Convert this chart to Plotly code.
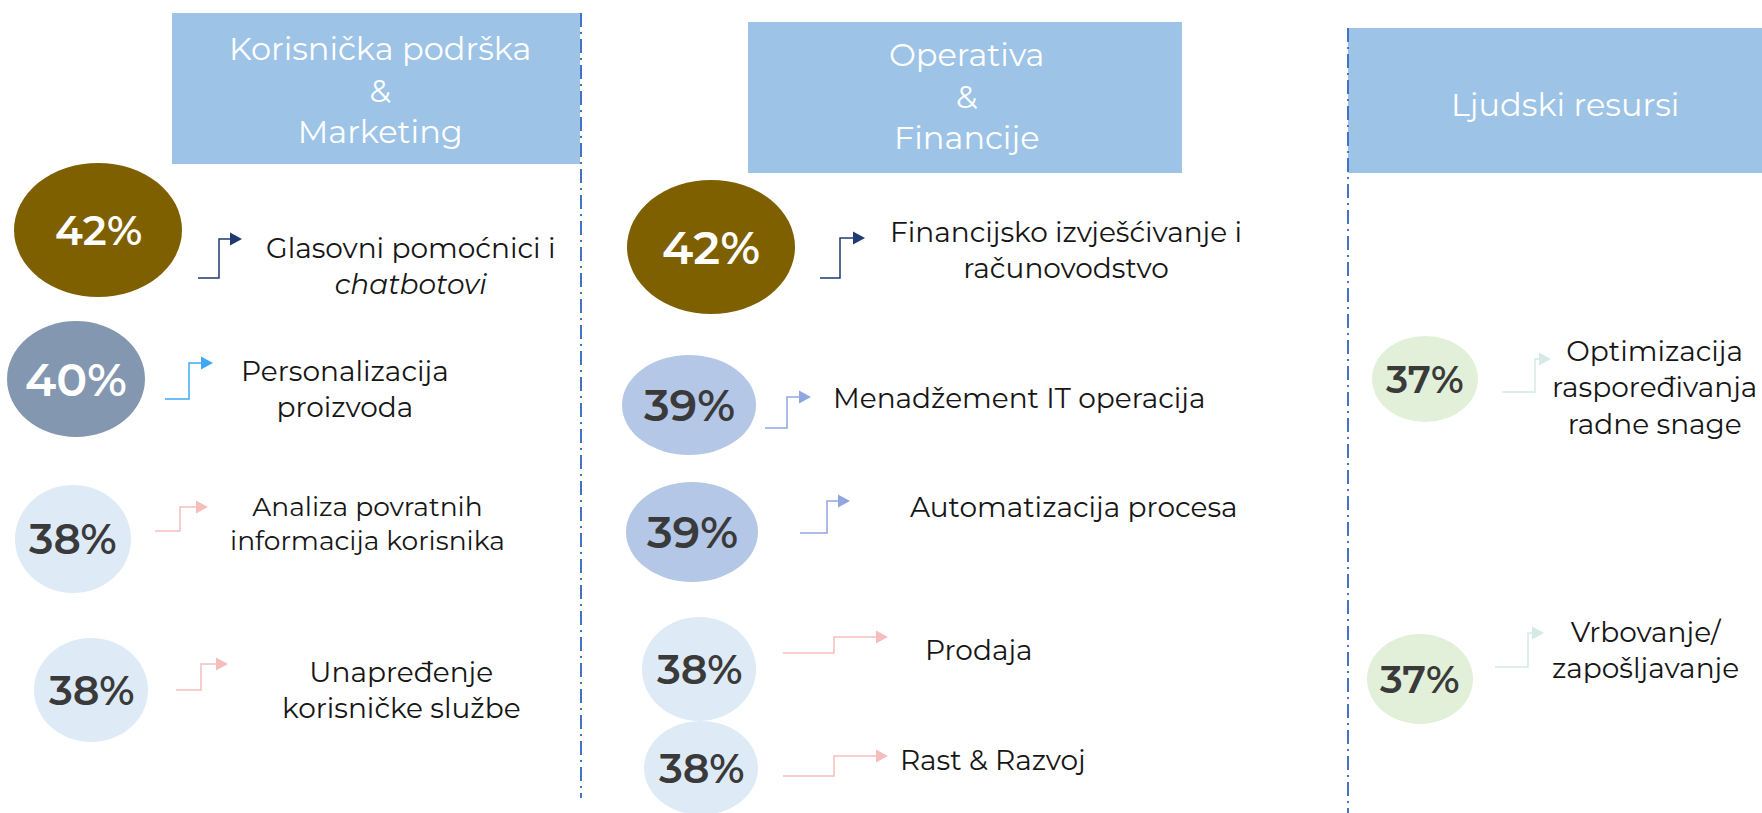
import plotly.graph_objects as go

# ---------------- data ----------------
departments = ["Korisnička podrška<br>&<br>Marketing", "Operativa<br>&<br>Financije", "Ljudski resursi"]
use_cases = [
    "Glasovni pomoćnici i<br><i>chatbotovi</i>",
    "Personalizacija<br>proizvoda",
    "Analiza povratnih<br>informacija korisnika",
    "Unapređenje<br>korisničke službe",
    "Financijsko izvješćivanje i<br>računovodstvo",
    "Menadžement IT operacija",
    "Automatizacija procesa",
    "Prodaja",
    "Rast & Razvoj",
    "Optimizacija<br>raspoređivanja<br>radne snage",
    "Vrbovanje/<br>zapošljavanje",
]
values = [42, 40, 38, 38, 42, 39, 39, 38, 38, 37, 37]
department_of = [0, 0, 0, 0, 1, 1, 1, 1, 1, 2, 2]

# ---------------- layout (pixels, y downwards) ----------------
W, H = 1762, 813
FONT = "Montserrat, Inter, 'Noto Sans', sans-serif"

header_boxes = [(172, 13, 580, 164), (748, 22, 1182, 173), (1348, 28, 1770, 173)]
header_text_xy = [(380, 90), (966, 96), (1565, 104)]
dividers = [(581, 13, 798), (1348, 28, 813)]

# circle: cx, cy, rx, ry, pct font size
circles = [
    (98, 230, 84, 67, 41), (76, 379, 69, 58, 46), (73, 539, 58, 54, 42), (91, 690, 57, 52, 41),
    (711, 247, 84, 67, 46), (689, 405, 67, 50, 44), (692, 532, 66, 50, 44),
    (699, 669, 57, 52, 41), (701, 768, 57, 47, 41),
    (1425, 379, 53, 43, 38), (1420, 679, 53, 45, 39),
]
# arrow: start x, start y, corner x, top y, tip x
arrows = [
    (198, 278, 219, 239, 242), (165, 399, 189, 363, 213), (155, 531, 180, 507, 208), (176, 690, 201, 664, 228),
    (820, 278, 840, 238, 865), (765, 428, 787, 397, 811), (800, 533, 827, 501, 850),
    (783, 653, 834, 637, 888), (783, 776, 834, 756, 888),
    (1502, 392, 1535, 359, 1551), (1495, 667, 1528, 633, 1544),
]
# label: center x, center y, font size
label_pos = [
    (410, 266, 28), (345, 389, 28), (367, 523, 26.5), (401, 690, 28),
    (1066, 250, 28), (1019, 398, 28), (1074, 507, 28), (979, 650, 28), (993, 760, 28),
    (1654, 387, 28), (1645, 650, 28),
]

circle_fill = {42: "#7F6000", 40: "#8497B0", 39: "#B4C7E7", 38: "#DEEBF7", 37: "#E2F0D9"}
pct_color = {42: "#FFFFFF", 40: "#FFFFFF", 39: "#3A3A3A", 38: "#3A3A3A", 37: "#3A3A3A"}
arrow_color = {42: "#203A72", 40: "#3FA9F5", 39: "#8FA6E0", 38: "#F6BDBD", 37: "#D5EAE6"}

fig = go.Figure()
shapes = []
annotations = []

# headers
for (x0, y0, x1, y1), (tx, ty), name in zip(header_boxes, header_text_xy, departments):
    shapes.append(dict(type="rect", x0=x0, y0=y0, x1=x1, y1=y1, fillcolor="#9DC3E6",
                       line=dict(width=0), layer="below"))
    annotations.append(dict(x=tx, y=ty, text=name, showarrow=False, xanchor="center", yanchor="middle",
                            font=dict(family=FONT, size=32, color="white"), align="center"))

# dividers
for x, y0, y1 in dividers:
    fig.add_trace(go.Scatter(x=[x, x], y=[y0, y1], mode="lines",
                             line=dict(color="#4472C4", width=2, dash="14px,5px,2px,5px"),
                             hoverinfo="skip", showlegend=False))

# items
for i, (lab, v) in enumerate(zip(use_cases, values)):
    cx, cy, rx, ry, fs = circles[i]
    shapes.append(dict(type="circle", x0=cx - rx, x1=cx + rx, y0=cy - ry, y1=cy + ry,
                       fillcolor=circle_fill[v], line=dict(width=0), layer="below"))
    annotations.append(dict(x=cx, y=cy, text=f"{v}%", showarrow=False,
                            xanchor="center", yanchor="middle",
                            font=dict(family=FONT, size=fs, color=pct_color[v], weight=600)))
    sx, sy, kx, ty, tip = arrows[i]
    col = arrow_color[v]
    fig.add_trace(go.Scatter(x=[sx, kx, kx, tip - 10], y=[sy, sy, ty, ty], mode="lines",
                             line=dict(color=col, width=1.5), hoverinfo="skip", showlegend=False))
    shapes.append(dict(type="path", path=f"M {tip-12},{ty-6.5} L {tip},{ty} L {tip-12},{ty+6.5} Z",
                       fillcolor=col, line=dict(width=0)))
    lx, ly, lfs = label_pos[i]
    annotations.append(dict(x=lx, y=ly, text=lab, showarrow=False, xanchor="center", yanchor="middle",
                            align="center", font=dict(family=FONT, size=lfs, color="#161616")))

fig.update_layout(
    width=W, height=H, margin=dict(l=0, r=0, t=0, b=0),
    paper_bgcolor="white", plot_bgcolor="white",
    xaxis=dict(range=[0, W], visible=False, fixedrange=True),
    yaxis=dict(range=[H, 0], visible=False, fixedrange=True),
    shapes=shapes, annotations=annotations, showlegend=False,
)

fig.write_html("out.html", config={"displayModeBar": False},
               post_script="document.body.style.margin='0';document.body.style.overflow='hidden';")
